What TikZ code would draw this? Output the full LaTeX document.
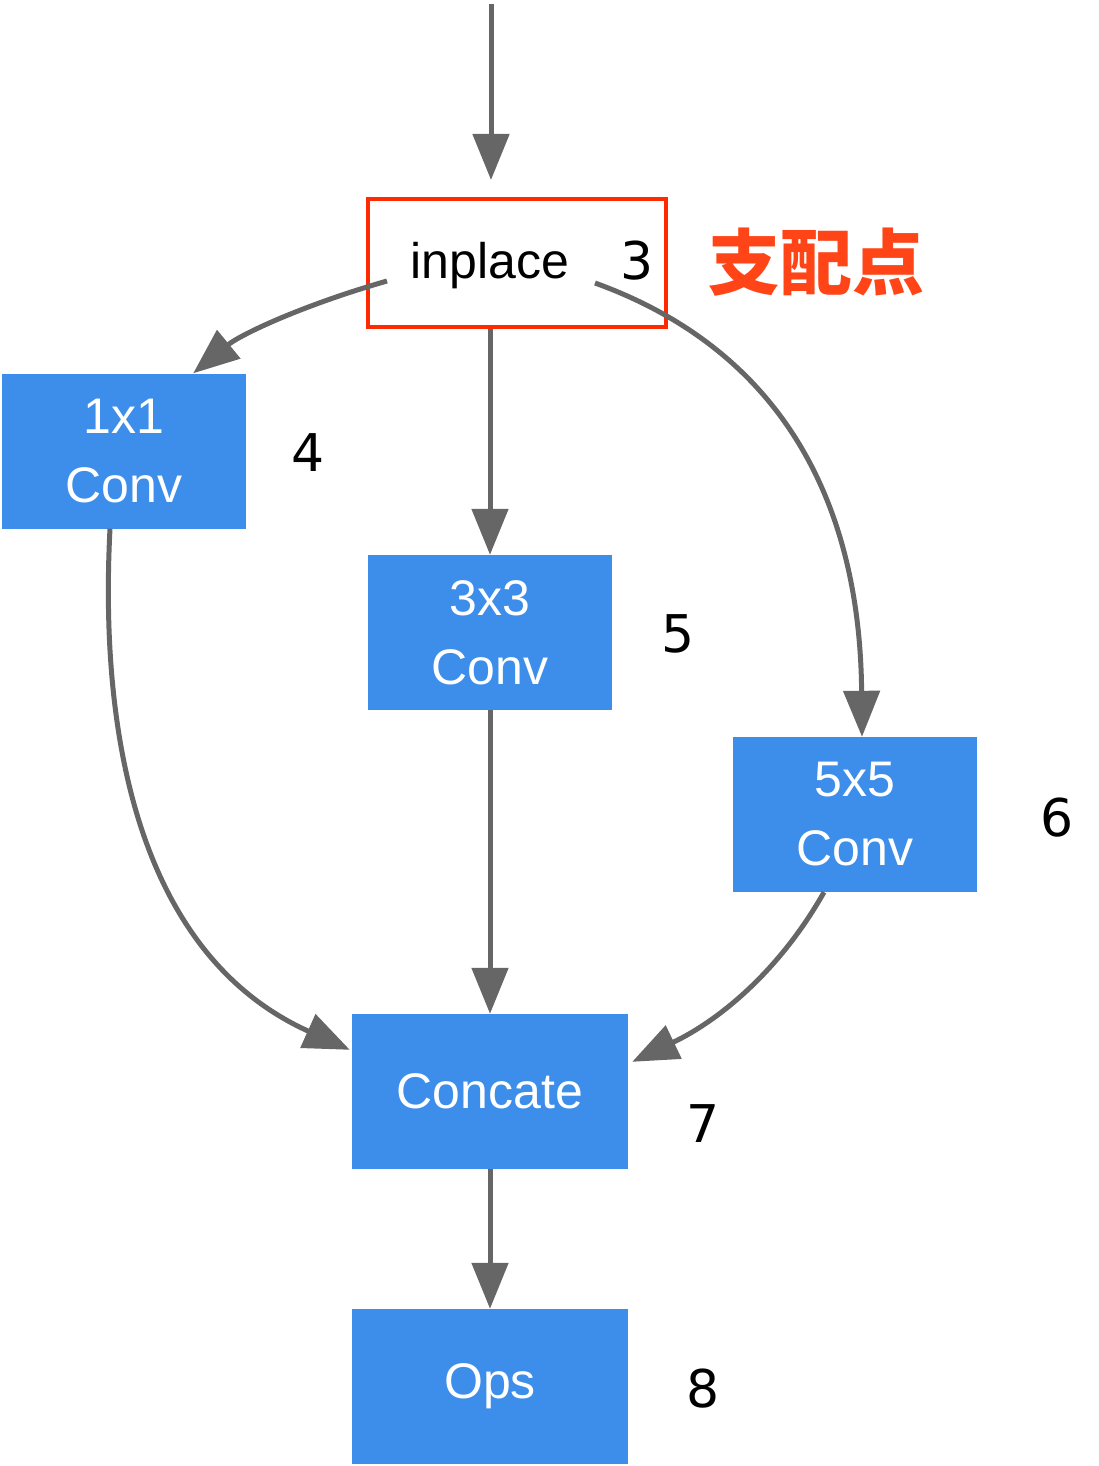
\documentclass[tikz,border=0pt]{standalone}
\usepackage{fontspec}
\setmainfont{Liberation Sans}
\newfontfamily\cjk{Noto Sans CJK SC}
\newfontfamily\hand{DejaVu Sans}
\usetikzlibrary{arrows.meta,calc}
\definecolor{blk}{HTML}{3D8EEA}
\definecolor{arrc}{HTML}{666666}
\definecolor{domred}{HTML}{FF2A00}
\definecolor{domtxt}{HTML}{FF4517}
\begin{document}
\begin{tikzpicture}[x=1pt,y=-1pt,
  blockbox/.style={fill=blk, text=white, inner sep=0pt, minimum height=155pt,
    align=center, font=\fontsize{50}{69}\selectfont},
  arr/.style={draw=arrc, line width=5pt, -{Triangle[length=46pt,width=36pt]}},
  numlabel/.style={inner sep=0pt, font=\hand\fontsize{52}{52}\selectfont}]
\useasboundingbox (0,0) rectangle (1099,1466);

% blocks
\node[blockbox, minimum width=244pt] (c1) at (124,451) {1x1\\Conv};
\node[blockbox, minimum width=244pt] (c3) at (490,632.5) {3x3\\Conv};
\node[blockbox, minimum width=244pt] (c5) at (855,814.5) {5x5\\Conv};
\node[blockbox, minimum width=276pt] (concat) at (490,1091.5) {Concate};
\node[blockbox, minimum width=276pt] (ops) at (490,1386.5) {Ops};

% dominator box
\node[draw=domred, line width=4pt, minimum width=298pt, minimum height=128pt, inner sep=0pt] (box) at (517,263) {};
\node[anchor=base, inner sep=0pt, font=\fontsize{50}{50}\selectfont] (inplace) at (490,278) {inplace};
\node[numlabel, anchor=base] (n3) at (637,279) {3};
\node[inner sep=0pt, text=domtxt, font=\cjk\bfseries\fontsize{72}{72}\selectfont] (dom) at (816,262) {支配点};

% numbers
\node[numlabel] (n4) at (308,453) {4};
\node[numlabel] (n5) at (678,634) {5};
\node[numlabel] (n6) at (1057,818) {6};
\node[numlabel] (n7) at (703,1124) {7};
\node[numlabel] (n8) at (703,1389) {8};

% connector ends
\coordinate (top) at (491,4);
\coordinate (sl) at (387,281);
\coordinate (sr) at (595,283);

% connectors
\draw[arr, shorten >=17pt] (top) -- (box.north -| top);
\draw[arr] (sl) .. controls (300,306) and (240,335) .. ([xshift=-53pt]c1.north east);
\draw[arr] (box.south -| c3.north) -- (c3.north);
\draw[arr] (sr) .. controls (780,350) and (860,500) .. ([xshift=7pt]c5.north);
\draw[arr] ([xshift=-14pt]c1.south) .. controls (98,760) and (150,960) .. ([xshift=-2pt,yshift=-36pt]concat.north west);
\draw[arr] (c3.south) -- (concat.north);
\draw[arr] ([xshift=-31pt]c5.south) .. controls (780,970) and (720,1020) .. ([xshift=4pt,yshift=-48pt]concat.north east);
\draw[arr] (concat.south) -- (ops.north);
\end{tikzpicture}
\end{document}
